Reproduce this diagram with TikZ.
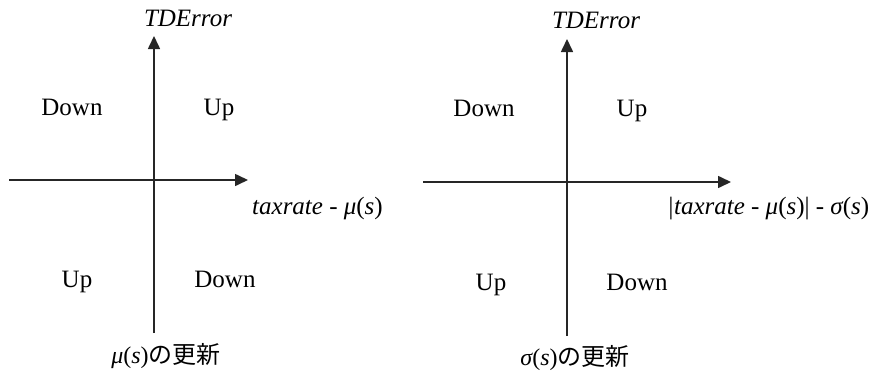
\documentclass[tikz,border=0pt]{standalone}
\usepackage{fontspec}
\setmainfont{Liberation Serif}
\newfontfamily\jpfont{Noto Sans CJK JP}
\usetikzlibrary{arrows.meta}
\begin{document}
\begin{tikzpicture}[x=1pt,y=-1pt,
  axis/.style={line width=1.6pt,draw=black!85},
  axarrow/.style={axis,-{Triangle[length=13pt,width=12pt]}},
  lbl/.style={inner sep=0pt,anchor=base,font=\fontsize{25}{30}\selectfont},
  lblw/.style={lbl,anchor=base west},
  captext/.style={inner sep=0pt,anchor=base,font=\fontsize{24}{28}\selectfont}]
\useasboundingbox (0,0) rectangle (886,372);
% left diagram
\coordinate (lvb) at (154,333);
\coordinate (lvt) at (154,36);
\coordinate (lhl) at (9,180);
\coordinate (lht) at (248,180);
\draw[axarrow] (lvb) -- (lvt);
\draw[axarrow] (lhl) -- (lht);
\node[lbl] (ly) at (188,26) {\itshape TDError};
\node[lblw] (lx) at (252,214) {\itshape taxrate\upshape\ -\ \itshape μ\upshape(\itshape s\upshape)};
\node[lbl] (l1) at (72,115) {Down};
\node[lbl] (l2) at (219,115) {Up};
\node[lbl] (l3) at (77,287) {Up};
\node[lbl] (l4) at (225,287) {Down};
\node[captext] (lc) at (166,363) {\itshape μ\upshape(\itshape s\upshape)\jpfont の更新};
% right diagram
\coordinate (rvb) at (567,336);
\coordinate (rvt) at (567,39);
\coordinate (rhl) at (423,182);
\coordinate (rht) at (731,182);
\draw[axarrow] (rvb) -- (rvt);
\draw[axarrow] (rhl) -- (rht);
\node[lbl] (ry) at (596,28) {\itshape TDError};
\node[lblw] (rx) at (667,214) {\itshape |taxrate\upshape\ -\ \itshape μ\upshape(\itshape s\upshape)|\ -\ \itshape σ\upshape(\itshape s\upshape)};
\node[lbl] (r1) at (484,116) {Down};
\node[lbl] (r2) at (632,116) {Up};
\node[lbl] (r3) at (491,290) {Up};
\node[lbl] (r4) at (637,290) {Down};
\node[captext] (rc) at (575,365) {\itshape σ\upshape(\itshape s\upshape)\jpfont の更新};
\end{tikzpicture}
\end{document}
